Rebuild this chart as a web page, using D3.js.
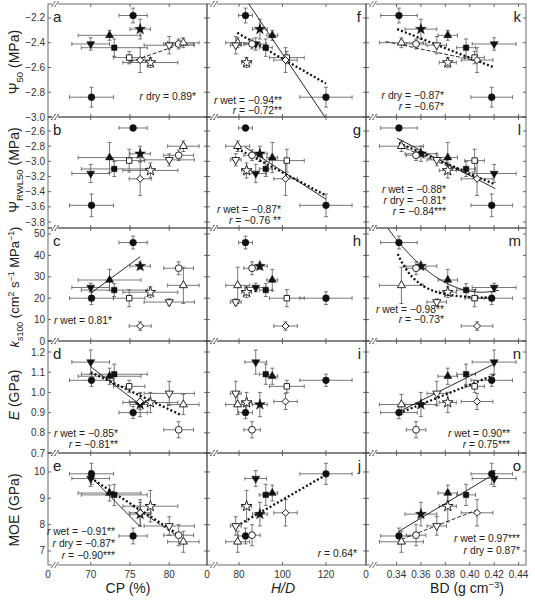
<!DOCTYPE html>
<html><head><meta charset="utf-8">
<script src="https://cdn.jsdelivr.net/npm/d3@7"></script>
<style>body{margin:0;background:#fff;} svg{display:block;font-family:Arial,"Liberation Sans",sans-serif;}</style>
</head><body><svg id="c" width="535" height="601"></svg>
<script>
// ---------------- DATA ----------------
const groups  = ["FC1","FC2","FStar","FTriUp","FTriDown","FSquare","OSquare","ODiamond","OCircle","OTriUp","OTriDown","OStar"];
const shapes  = ["circle","circle","star","triUp","triDown","square","square","diamond","circle","triUp","triDown","star"];
const filled  = [1,1,1,1,1,1,0,0,0,0,0,0];

const cp      = [75.4, 70.1, 76.3, 72.4, 70.0, 73.0, 74.9, 76.3, 81.2, 81.8, 80.0, 77.6];
const cpErr   = [1.8, 2.8, 1.3, 4.0, 2.4, 4.2, 2.0, 1.4, 1.9, 2.0, 3.2, 3.5];
const hd      = [83.0, 120.0, 89.6, 95.3, 87.7, 92.3, 102.0, 101.4, 86.0, 79.4, 78.5, 83.5];
const hdErr   = [3.2, 12.0, 3.4, 2.5, 5.0, 3.0, 8.0, 5.4, 3.8, 5.5, 2.5, 2.3];
const bd      = [0.342, 0.418, 0.360, 0.382, 0.420, 0.397, 0.404, 0.406, 0.356, 0.344, 0.373, 0.382];
const bdErr   = [0.015, 0.017, 0.013, 0.008, 0.018, 0.0077, 0.008, 0.013, 0.008, 0.018, 0.008, 0.007];

const psi50     = [-2.18, -2.84, -2.29, -2.34, -2.41, -2.44, -2.52, -2.54, -2.41, -2.40, -2.42, -2.56];
const psi50Err  = [0.06, 0.08, 0.08, 0.04, 0.05, 0.07, 0.05, 0.10, 0.04, 0.04, 0.07, 0.04];
const psiRWL    = [-2.56, -3.58, -2.90, -2.95, -3.16, -3.10, -2.99, -3.23, -2.92, -2.80, -2.98, -3.12];
const psiRWLErr = [0.03, 0.15, 0.10, 0.20, 0.12, 0.10, 0.15, 0.22, 0.07, 0.07, 0.08, 0.10];
const ks100     = [46, 20, 35, 28.5, 25, 23.8, 20, 7, 34, 26, 18.2, 22.8];
const ks100Err  = [3, 3, 1.5, 5, 2, 3, 4, 2, 3, 8.5, 1.5, 2.5];
const Emod      = [0.90, 1.06, 0.94, 1.08, 1.15, 1.09, 1.03, 0.955, 0.815, 0.94, 0.995, 0.95];
const EmodErr   = [0.03, 0.03, 0.06, 0.04, 0.06, 0.05, 0.03, 0.04, 0.04, 0.05, 0.06, 0.05];
const MOE       = [7.57, 9.93, 8.40, 9.20, 9.75, 9.13, null, 8.45, 7.60, 7.35, 7.95, 8.70];
const MOEErr    = [0.3, 0.4, 0.45, 0.3, 0.3, 0.4, null, 0.5, 0.4, 0.4, 0.35, 0.6];

const xTicks = [[70,75,80],[80,100,120],[0.34,0.36,0.38,0.40,0.42,0.44]];
const yTicks = [[-3.0,-2.8,-2.6,-2.4,-2.2],[-3.8,-3.6,-3.4,-3.2,-3.0,-2.8,-2.6],[0,10,20,30,40,50],[0.7,0.8,0.9,1.0,1.1,1.2],[7,8,9,10]];
const xFormats = [d3.format("d"), d3.format("d"), d3.format(".2f")];
const yFormats = [d3.format(".1f"), d3.format(".1f"), d3.format("d"), d3.format(".1f"), d3.format("d")];
const panelLetters = [["a","f","k"],["b","g","l"],["c","h","m"],["d","i","n"],["e","j","o"]];

// regression lines: [x0,y0,x1,y1] in data units
const fits = [
  {r:0,c:0,k:"dry",p:[75.0,-2.555,82.0,-2.40]},
  {r:0,c:1,k:"wet",p:[80,-1.969,122,-3.065]},
  {r:0,c:1,k:"all",p:[79.2,-2.32,120,-2.73]},
  {r:0,c:2,k:"all",p:[0.3405,-2.29,0.42,-2.60]},
  {r:0,c:2,k:"dry",p:[0.331,-2.39,0.41,-2.555]},
  {r:1,c:1,k:"wet",p:[82.7,-2.81,120,-3.50]},
  {r:1,c:1,k:"all",p:[79.2,-2.83,120,-3.45]},
  {r:1,c:2,k:"wet",p:[0.3405,-2.695,0.421,-3.36]},
  {r:1,c:2,k:"all",p:[0.342,-2.76,0.42,-3.30]},
  {r:1,c:2,k:"dry",p:[0.343,-2.80,0.409,-3.24]},
  {r:2,c:0,k:"wet",p:[70,22.3,76.3,39.4]},
  {r:3,c:0,k:"wet",p:[70,1.127,76.6,0.93]},
  {r:3,c:0,k:"all",p:[70,1.10,81.5,0.888]},
  {r:3,c:2,k:"wet",p:[0.3405,0.90,0.421,1.144]},
  {r:3,c:2,k:"all",p:[0.342,0.897,0.42,1.086]},
  {r:4,c:0,k:"wet",p:[70,9.82,76.3,7.92]},
  {r:4,c:0,k:"dry",p:[75.2,8.72,81.3,7.52]},
  {r:4,c:0,k:"all",p:[70,9.77,81.3,7.6]},
  {r:4,c:1,k:"all",p:[79,7.95,120,9.89]},
  {r:4,c:2,k:"wet",p:[0.3414,7.73,0.42,9.92]},
  {r:4,c:2,k:"dry",p:[0.344,7.44,0.406,8.56]}
];
// fitted curves in panel m (ks100 vs BD)
const curves = [
  {r:2,c:2,k:"wet",x:[0.333,0.424],f:b=>22.8+5017*(b-0.41)*(b-0.41)},
  {r:2,c:2,k:"all",x:[0.341,0.42],f:b=>20+19.4*Math.exp(-(b-0.342)/0.0163)}
];

// annotation texts: [label, value]
const notes = [
  {r:0,c:0,lines:[["dry","0.89*"]]},
  {r:0,c:1,lines:[["wet","\u22120.94**"],["","\u22120.72**"]]},
  {r:0,c:2,lines:[["dry","\u22120.87*"],["","\u22120.67*"]]},
  {r:1,c:1,lines:[["wet","\u22120.87*"],["","\u22120.76 **"]]},
  {r:1,c:2,lines:[["wet","\u22120.88*"],["dry","\u22120.81*"],["","\u22120.84***"]]},
  {r:2,c:0,lines:[["wet","0.81*"]]},
  {r:2,c:2,lines:[["wet","\u22120.98**"],["","\u22120.73*"]]},
  {r:3,c:0,lines:[["wet","\u22120.85*"],["","\u22120.81**"]]},
  {r:3,c:2,lines:[["wet","0.90**"],["","0.75***"]]},
  {r:4,c:0,lines:[["wet","\u22120.91**"],["dry","\u22120.87*"],["","\u22120.90***"]]},
  {r:4,c:1,lines:[["","0.64*"]]},
  {r:4,c:2,lines:[["wet","0.97***"],["dry","0.87*"]]}
];

// ---------------- LAYOUT ----------------
const colL=[48,207,366], colR=[207,366,526];
const rowT=[4,117,228,341,453], rowB=[117,228,341,453,565];
const xDom=[[64.56,84.81],[65.29,138.4],[0.315,0.4461]];
const yDom=[[-3.0,-2.087],[-3.879,-2.415],[0,52.8],[0.7,1.2545],[6.468,10.72]];
const noteLayout = {
 "0,0":{x:196,y:[99.5]}, "0,1":{x:282,y:[103.5,114]}, "0,2":{x:444,y:[98.5,109.5]},
 "1,1":{x:281,y:[212.5,224]}, "1,2":{x:446,y:[193,204,215]},
 "2,0":{x:112,y:[323.5]}, "2,2":{x:444,y:[312.5,323]},
 "3,0":{x:118,y:[436.5,447.5]}, "3,2":{x:510,y:[436.5,447.5]},
 "4,0":{x:115,y:[535,547,559]}, "4,1":{x:357,y:[556.5]}, "4,2":{x:520,y:[541.5,553.5]}
};

const xVals=[cp,hd,bd], xErrs=[cpErr,hdErr,bdErr];
const yVals=[psi50,psiRWL,ks100,Emod,MOE], yErrs=[psi50Err,psiRWLErr,ks100Err,EmodErr,MOEErr];

const svg=d3.select("#c");
const xs=[0,1,2].map(c=>d3.scaleLinear().domain(xDom[c]).range([colL[c],colR[c]]));
const ys=[0,1,2,3,4].map(r=>d3.scaleLinear().domain(yDom[r]).range([rowB[r],rowT[r]]));

function symPath(s){
  if(s==="circle") return d3.symbol(d3.symbolCircle,36)();
  if(s==="square") return d3.symbol(d3.symbolSquare,30)();
  if(s==="triUp"||s==="triDown") return d3.symbol(d3.symbolTriangle,28)();
  if(s==="star") return d3.symbol(d3.symbolStar,36)();
  if(s==="diamond") return d3.symbol(d3.symbolSquare,24)();
  return d3.symbol(d3.symbolCircle,36)();
}
function symRot(s){ return s==="triDown"?180:(s==="diamond"?45:0); }

const defs=svg.append("defs");
for(let r=0;r<5;r++)for(let c=0;c<3;c++){
  defs.append("clipPath").attr("id",`cl${r}${c}`).append("rect")
   .attr("x",colL[c]).attr("y",rowT[r]).attr("width",colR[c]-colL[c]).attr("height",rowB[r]-rowT[r]);
}

const styles={wet:{w:0.9,d:null},dry:{w:0.9,d:"4,2"},all:{w:2.3,d:"2,2.2"}};

for(let r=0;r<5;r++){
  for(let c=0;c<3;c++){
    const x=xs[c], y=ys[r];
    const g=svg.append("g");
    g.append("rect").attr("x",colL[c]).attr("y",rowT[r]).attr("width",colR[c]-colL[c]).attr("height",rowB[r]-rowT[r])
     .attr("fill","none").attr("stroke","#444").attr("stroke-width",0.8);
    yTicks[r].forEach(t=>{
      const yy=y(t);
      g.append("line").attr("x1",colL[c]).attr("x2",colL[c]+3).attr("y1",yy).attr("y2",yy).attr("stroke","#444").attr("stroke-width",0.8);
      g.append("line").attr("x1",colR[c]).attr("x2",colR[c]-3).attr("y1",yy).attr("y2",yy).attr("stroke","#444").attr("stroke-width",0.8);
    });
    xTicks[c].forEach(t=>{
      const xx=x(t);
      g.append("line").attr("x1",xx).attr("x2",xx).attr("y1",rowB[r]).attr("y2",rowB[r]-3).attr("stroke","#444").attr("stroke-width",0.8);
      g.append("line").attr("x1",xx).attr("x2",xx).attr("y1",rowT[r]).attr("y2",rowT[r]+3).attr("stroke","#444").attr("stroke-width",0.8);
    });
    [rowT[r],rowB[r]].forEach(yy=>{
      const bx=colL[c]+7;
      g.append("rect").attr("x",bx-3).attr("y",yy-2).attr("width",6).attr("height",4).attr("fill","#fff");
      [-1.6,1.6].forEach(o=>g.append("line").attr("x1",bx+o-2).attr("x2",bx+o+2).attr("y1",yy+3).attr("y2",yy-3)
        .attr("stroke","#444").attr("stroke-width",0.8));
    });
    if(c===0){
      yTicks[r].forEach(t=>{
        g.append("text").attr("x",colL[0]-3).attr("y",y(t)+3.5).attr("text-anchor","end")
         .attr("font-size",10).attr("fill","#333").text(yFormats[r](t));
      });
    }
    g.append("text").attr("x", c===0? colL[c]+5 : colR[c]-5).attr("y",rowT[r]+18)
     .attr("text-anchor", c===0?"start":"end").attr("font-size",15).attr("fill","#222").text(panelLetters[r][c]);

    const eb=g.append("g").attr("stroke","#555").attr("stroke-width",0.8);
    const pts=[];
    groups.forEach((gname,i)=>{
      const yv=yVals[r][i]; if(yv==null) return;
      const xv=xVals[c][i], xe=xErrs[c][i], ye=yErrs[r][i];
      const px=x(xv), py=y(yv);
      const x0=x(xv-xe), x1=x(xv+xe), y0=y(yv-ye), y1=y(yv+ye);
      eb.append("line").attr("x1",x0).attr("x2",x1).attr("y1",py).attr("y2",py);
      eb.append("line").attr("x1",x0).attr("x2",x0).attr("y1",py-2).attr("y2",py+2);
      eb.append("line").attr("x1",x1).attr("x2",x1).attr("y1",py-2).attr("y2",py+2);
      eb.append("line").attr("x1",px).attr("x2",px).attr("y1",y0).attr("y2",y1);
      eb.append("line").attr("x1",px-2).attr("x2",px+2).attr("y1",y0).attr("y2",y0);
      eb.append("line").attr("x1",px-2).attr("x2",px+2).attr("y1",y1).attr("y2",y1);
      pts.push({i,px,py});
    });
    const lg=g.append("g").attr("clip-path",`url(#cl${r}${c})`);
    fits.filter(f=>f.r===r&&f.c===c).forEach(f=>{
      const st=styles[f.k];
      lg.append("line").attr("x1",x(f.p[0])).attr("y1",y(f.p[1])).attr("x2",x(f.p[2])).attr("y2",y(f.p[3]))
        .attr("stroke","#111").attr("stroke-width",st.w).attr("stroke-dasharray",st.d);
    });
    curves.filter(f=>f.r===r&&f.c===c).forEach(f=>{
      const st=styles[f.k];
      const xsm=d3.range(0,61).map(k=>f.x[0]+(f.x[1]-f.x[0])*k/60);
      lg.append("path").attr("d",d3.line().x(d=>x(d)).y(d=>y(f.f(d)))(xsm))
        .attr("fill","none").attr("stroke","#111").attr("stroke-width",st.w).attr("stroke-dasharray",st.d);
    });
    pts.forEach(p=>{
      const s=shapes[p.i];
      g.append("path").attr("d",symPath(s))
       .attr("transform",`translate(${p.px},${p.py}) rotate(${symRot(s)})`)
       .attr("fill",filled[p.i]?"#111":"#fff").attr("stroke","#111").attr("stroke-width",filled[p.i]?0.5:0.9);
    });
    const nt=notes.find(n=>n.r===r&&n.c===c);
    if(nt){
      const L=noteLayout[r+","+c];
      nt.lines.forEach((ln,k)=>{
        const t=g.append("text").attr("x",L.x).attr("y",L.y[k]).attr("text-anchor","end").attr("font-size",10.3).attr("fill","#222");
        t.append("tspan").attr("font-style","italic").text("r");
        t.append("tspan").text((ln[0]?" "+ln[0]:"")+" = "+ln[1]);
      });
    }
  }
}

for(let c=0;c<3;c++){
  xTicks[c].forEach(t=>{
    svg.append("text").attr("x",xs[c](t)).attr("y",rowB[4]+13).attr("text-anchor","middle")
      .attr("font-size",10).attr("fill","#333").text(xFormats[c](t));
  });
  svg.append("text").attr("x",colL[c]).attr("y",rowB[4]+13).attr("text-anchor","middle")
      .attr("font-size",10).attr("fill","#333").text("0");
}

function rich(t,parts){
  let shift=0;
  parts.forEach(p=>{
    const ts=t.append("tspan").text(p.t);
    let target=0;
    if(p.sub){ts.attr("font-size","0.68em"); target=4;}
    if(p.sup){ts.attr("font-size","0.68em"); target=-5;}
    if(p.it) ts.attr("font-style","italic");
    if(target!==shift){ ts.attr("dy",target-shift); shift=target; }
  });
}
const xTitles=[[{t:"CP (%)"}],[{t:"H/D",it:1}],[{t:"BD (g cm"},{t:"\u22123",sup:1},{t:")"}]];
const xTitleX=[128,283,467];
xTitles.forEach((p,c)=>{
  const t=svg.append("text").attr("x",xTitleX[c]).attr("y",593).attr("text-anchor","middle").attr("font-size",14).attr("fill","#222");
  rich(t,p);
});
const yTitles=[
 [{t:"\u03A8"},{t:"50",sub:1},{t:" (MPa)"}],
 [{t:"\u03A8"},{t:"RWL50",sub:1},{t:" (MPa)"}],
 [{t:"k",it:1},{t:"s100",sub:1},{t:" (cm"},{t:"2",sup:1},{t:" s"},{t:"\u22121",sup:1},{t:" MPa"},{t:"\u22121",sup:1},{t:")"}],
 [{t:"E",it:1},{t:" (GPa)"}],
 [{t:"MOE (GPa)"}]
];
const yTitleY=[62,170,287,395,510];
const yFont=[14,14,13,14,14];
yTitles.forEach((p,r)=>{
  const t=svg.append("text").attr("transform",`translate(19,${yTitleY[r]}) rotate(-90)`).attr("text-anchor","middle")
    .attr("font-size",yFont[r]).attr("fill","#222");
  rich(t,p);
});
</script></body></html>
